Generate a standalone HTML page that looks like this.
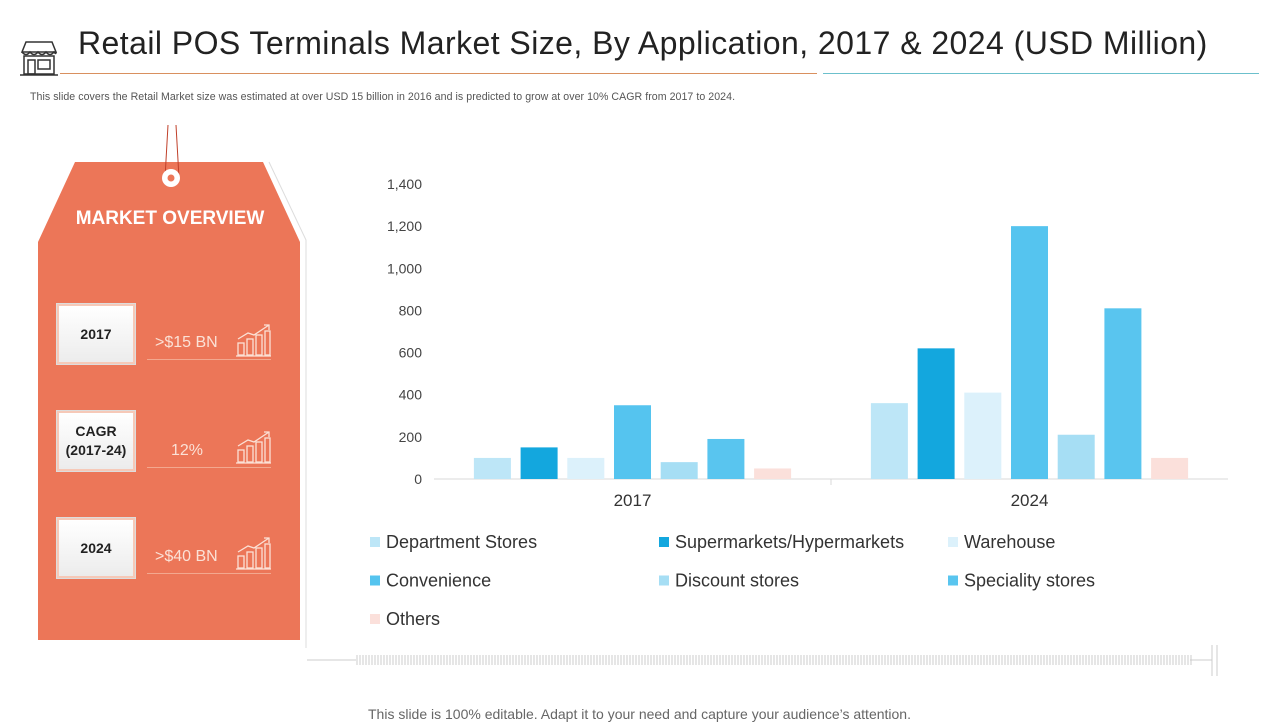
<!DOCTYPE html>
<html><head><meta charset="utf-8"><style>
body{margin:0;width:1280px;height:720px;background:#fff;font-family:"Liberation Sans",sans-serif;position:relative;overflow:hidden}
.abs{position:absolute}
.box{position:absolute;left:57px;width:74px;height:56px;background:linear-gradient(#fff,#ececec);border:2px solid #f6c9b8;box-shadow:0 0 0 1px #ddd;display:flex;align-items:center;justify-content:center;text-align:center;font-weight:bold;font-size:14px;color:#222;line-height:19px}
.val{position:absolute;left:147px;width:124px;border-bottom:1px solid #f3a88f;color:#fbe1d6;font-size:16px;height:26px;padding-left:8px;box-sizing:border-box}
</style></head><body>
<svg class="abs" style="left:18px;top:38px" width="42" height="40"><g fill="none" stroke="#333" stroke-width="1.5"><path d="M4 14 L8 4 H34 L38 14 Z"/><path d="M4 14 q4 5 8 0 q4 5 8 0 q4 5 8 0 q4 5 8 0 q2 3 2 0"/><rect x="6" y="18" width="30" height="18"/><rect x="10" y="22" width="7" height="14"/><rect x="20" y="22" width="12" height="9"/><path d="M2 37 H40"/></g></svg>
<div class="abs" style="left:78px;top:25px;font-size:32px;color:#222;letter-spacing:0.44px">Retail POS Terminals Market Size, By Application, 2017 &amp; 2024 (USD Million)</div>
<div class="abs" style="left:60px;top:73px;width:757px;height:1px;background:#d9905f"></div>
<div class="abs" style="left:823px;top:73px;width:436px;height:1px;background:#6cc0cc"></div>
<div class="abs" style="left:30px;top:91px;font-size:10.6px;color:#555;letter-spacing:0.05px">This slide covers the Retail Market size was estimated at over USD 15 billion in 2016 and is predicted to grow at over 10% CAGR from 2017 to 2024.</div>

<svg class="abs" style="left:0;top:120px" width="320" height="530">
<path d="M269 42 L306 120 L306 528" fill="none" stroke="#ddd" stroke-width="1"/>
<path d="M75 42 H263 L300 122 V520 H38 V122 Z" fill="#ec7658"/>
<path d="M168 5 L165 58 M176 5 L179 58" stroke="#c0402a" stroke-width="1" fill="none"/>
<circle cx="171" cy="58" r="9" fill="#fff"/><circle cx="171" cy="58" r="3.5" fill="#ec7658"/>
<text x="170" y="104" text-anchor="middle" fill="#fff" font-size="19" font-weight="bold" font-family="Liberation Sans">MARKET OVERVIEW</text>
</svg>
<div class="box" style="top:304px">2017</div>
<div class="val" style="top:334px">&gt;$15 BN</div>
<div class="box" style="top:411px">CAGR<br>(2017-24)</div>
<div class="val" style="top:442px;padding-left:24px">12%</div>
<div class="box" style="top:518px">2024</div>
<div class="val" style="top:548px">&gt;$40 BN</div>
<svg class="abs" style="left:0;top:0" width="300" height="600">
<g fill="none" stroke="#fbe1d6" stroke-width="1.3">
<g transform="translate(236,323)"><rect x="2" y="20" width="6" height="12"/><rect x="11" y="16" width="6" height="16"/><rect x="20" y="12" width="6" height="20"/><rect x="29" y="8" width="5" height="24"/><path d="M0 33H35 M2 16 L12 10 L18 12 L33 2 M28 2H33V7"/></g>
<g transform="translate(236,430)"><rect x="2" y="20" width="6" height="12"/><rect x="11" y="16" width="6" height="16"/><rect x="20" y="12" width="6" height="20"/><rect x="29" y="8" width="5" height="24"/><path d="M0 33H35 M2 16 L12 10 L18 12 L33 2 M28 2H33V7"/></g>
<g transform="translate(236,536)"><rect x="2" y="20" width="6" height="12"/><rect x="11" y="16" width="6" height="16"/><rect x="20" y="12" width="6" height="20"/><rect x="29" y="8" width="5" height="24"/><path d="M0 33H35 M2 16 L12 10 L18 12 L33 2 M28 2H33V7"/></g>
</g></svg>

<svg class="abs" style="left:0;top:0" width="1280" height="720" id="chart">
<g id="ticks"></g><g id="bars"></g><g id="legend"></g>
<path d="M307 660 H356" stroke="#ccc"/><path d="M1190 660 H1212 M1212 645 V676 M1217 645 V676" stroke="#ccc"/>
</svg>
<svg class="abs" style="left:356px;top:652px" width="836" height="14">
<defs><pattern id="p" width="3" height="14" patternUnits="userSpaceOnUse"><path d="M1 3V13" stroke="#ccc"/></pattern></defs><rect width="836" height="14" fill="url(#p)"/></svg>
<div class="abs" style="left:368px;top:706px;font-size:14px;color:#666">This slide is 100% editable. Adapt it to your need and capture your audience’s attention.</div>
<script>
const categories=["2017","2024"];
const seriesNames=["Department Stores","Supermarkets/Hypermarkets","Warehouse","Convenience","Discount stores","Speciality stores","Others"];
const seriesColors=["#bde6f7","#13a7de","#dcf1fb","#55c4ef","#a6def4","#59c5ef","#fbe0db"];
const values2017=[100,150,100,350,80,190,50];
const values2024=[360,620,410,1200,210,810,100];
const yTicks=[0,200,400,600,800,1000,1200,1400];
const ns="http://www.w3.org/2000/svg";
const x0=434,x1=1228,y0=479,yTop=184,yMax=1400;
const y=v=>y0-(v/yMax)*(y0-yTop);
const catW=(x1-x0)/categories.length;
function mk(t,a,p){const e=document.createElementNS(ns,t);for(const k in a)e.setAttribute(k,a[k]);p.appendChild(e);return e;}
const T=document.getElementById('ticks'),B=document.getElementById('bars'),L=document.getElementById('legend');
yTicks.forEach(v=>{const t=mk('text',{x:422,y:y(v)+5,'text-anchor':'end','font-size':14,fill:'#444','font-family':'Liberation Sans'},T);t.textContent=v.toLocaleString('en-US');

});
mk('path',{d:`M${x0} ${y0}H${x1} M${x0+catW} ${y0}V${y0+6}`,stroke:'#d9d9d9'},T);
const data=[values2017,values2024];
const bw=37,step=46.7;
categories.forEach((c,ci)=>{const cx=x0+catW*(ci+0.5);
const t=mk('text',{x:cx,y:506,'text-anchor':'middle','font-size':17,fill:'#333','font-family':'Liberation Sans'},T);t.textContent=c;


data[ci].forEach((v,si)=>{const bx=cx+(si-3)*step-bw/2;
const r=mk('rect',{x:bx,y:y(v),width:bw,height:y0-y(v),fill:seriesColors[si]},B);

});});
seriesNames.forEach((n,i)=>{const lx=370+(i%3)*289,ly=542+Math.floor(i/3)*38.5;
const g=mk('g',{},L);


mk('rect',{x:lx,y:ly-5,width:10,height:10,fill:seriesColors[i]},g);
const t=mk('text',{x:lx+16,y:ly+6,'font-size':18,fill:'#333','font-family':'Liberation Sans'},g);t.textContent=n;});
</script>
</body></html>
